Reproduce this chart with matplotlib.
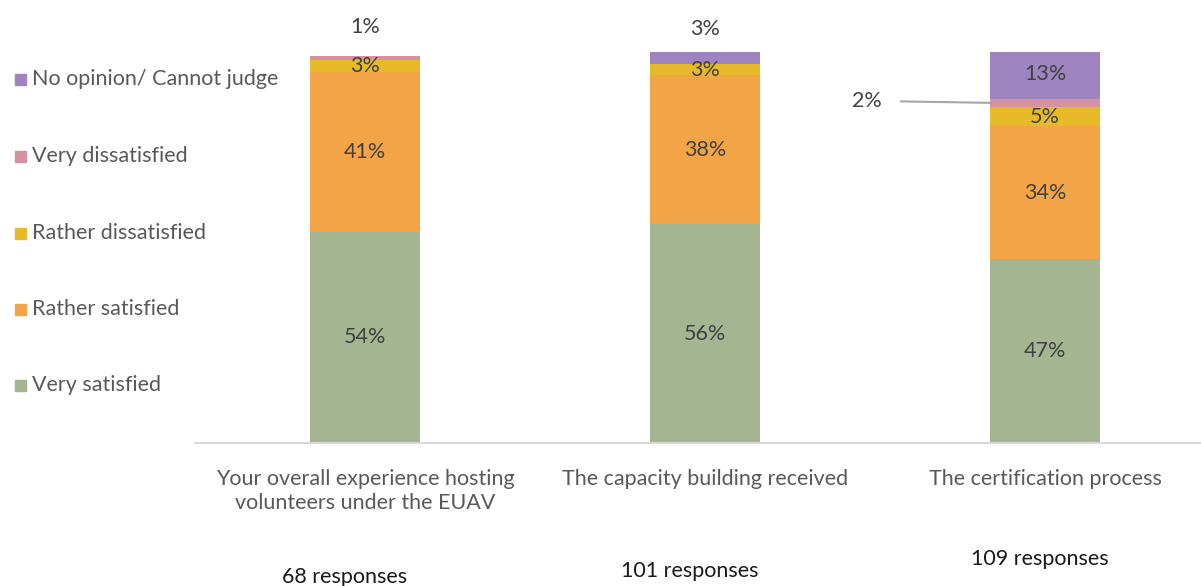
import matplotlib.pyplot as plt
from matplotlib.patches import Rectangle

plt.rcParams['font.family'] = ['Lato', 'DejaVu Sans']

categories = ["Your overall experience hosting\nvolunteers under the EUAV",
              "The capacity building received",
              "The certification process"]
responses = ["68 responses", "101 responses", "109 responses"]

series = ["Very satisfied", "Rather satisfied", "Rather dissatisfied",
          "Very dissatisfied", "No opinion/ Cannot judge"]
very_satisfied = [54, 56, 47]
rather_satisfied = [41, 38, 34]
rather_dissatisfied = [3, 3, 5]
very_dissatisfied = [1, 0, 2]
no_opinion = [0, 3, 13]

colors = ["#A5B592", "#F3A447", "#E6BA28", "#D4919F", "#9E84C0"]
values = [very_satisfied, rather_satisfied, rather_dissatisfied,
          very_dissatisfied, no_opinion]

FS = 15.5
W, H = 1201, 586
fig = plt.figure(figsize=(W / 100, H / 100), dpi=100)
# axes from x=195px to 1215px, y from 443px (0%) to 52px (100%)
ax = fig.add_axes([195 / W, 1 - 443 / H, 1020 / W, 391 / H])

x = [0, 1, 2]
bw = 0.324
bottom = [0, 0, 0]
for name, vals, c in zip(series, values, colors):
    ax.bar(x, vals, bw, bottom=bottom, color=c, label=name, zorder=2)
    for i, v in enumerate(vals):
        mid = bottom[i] + v / 2
        if v >= 5 or (name == "Rather dissatisfied" and v > 0):
            ax.text(x[i], mid, f"{v}%", ha="center", va="center",
                    fontsize=FS, color="#404040")
    bottom = [b + v for b, v in zip(bottom, vals)]

# small segments labelled outside the bars
ax.text(0, 106.5, f"{very_dissatisfied[0]}%", ha="center", va="center",
        fontsize=FS, color="#404040", clip_on=False)
ax.text(1, 106, f"{no_opinion[1]}%", ha="center", va="center",
        fontsize=FS, color="#404040", clip_on=False)
pink3 = very_satisfied[2] + rather_satisfied[2] + rather_dissatisfied[2] + very_dissatisfied[2] / 2
ax.annotate(f"{very_dissatisfied[2]}%", xy=(2 - bw / 2, pink3), xytext=(1.475, 87.5),
            ha="center", va="center", fontsize=FS, color="#404040",
            arrowprops=dict(arrowstyle="-", color="#A6A6A6", lw=1.5,
                            shrinkA=12, shrinkB=0))

ax.set_xlim(-0.5, 2.5)
ax.set_ylim(0, 100)
ax.set_yticks([])
ax.set_xticks(x)
ax.set_xticklabels(categories, fontsize=FS, color="#595959", linespacing=1.2)
ax.tick_params(axis="x", length=0, pad=19)
for s in ["top", "right", "left"]:
    ax.spines[s].set_visible(False)
ax.spines["bottom"].set_color("#D9D9D9")
ax.spines["bottom"].set_linewidth(1.5)

# legend down the left side, top entry first
leg_y = [385, 309, 233, 156, 79]
for name, c, yy in zip(series, colors, leg_y):
    fig.patches.append(Rectangle((15 / W, 1 - (yy + 6) / H), 11 / W, 11 / H,
                                 transform=fig.transFigure, color=c))
    fig.text(32 / W, 1 - yy / H, name, ha="left", va="center",
             fontsize=FS, color="#595959")

resp_pos = [(345, 577), (690, 571), (1040, 559)]
for txt, (px, py) in zip(responses, resp_pos):
    fig.text(px / W, 1 - py / H, txt, ha="center", va="center",
             fontsize=FS, color="#1A1A1A")

fig.savefig("out.png", dpi=100)
